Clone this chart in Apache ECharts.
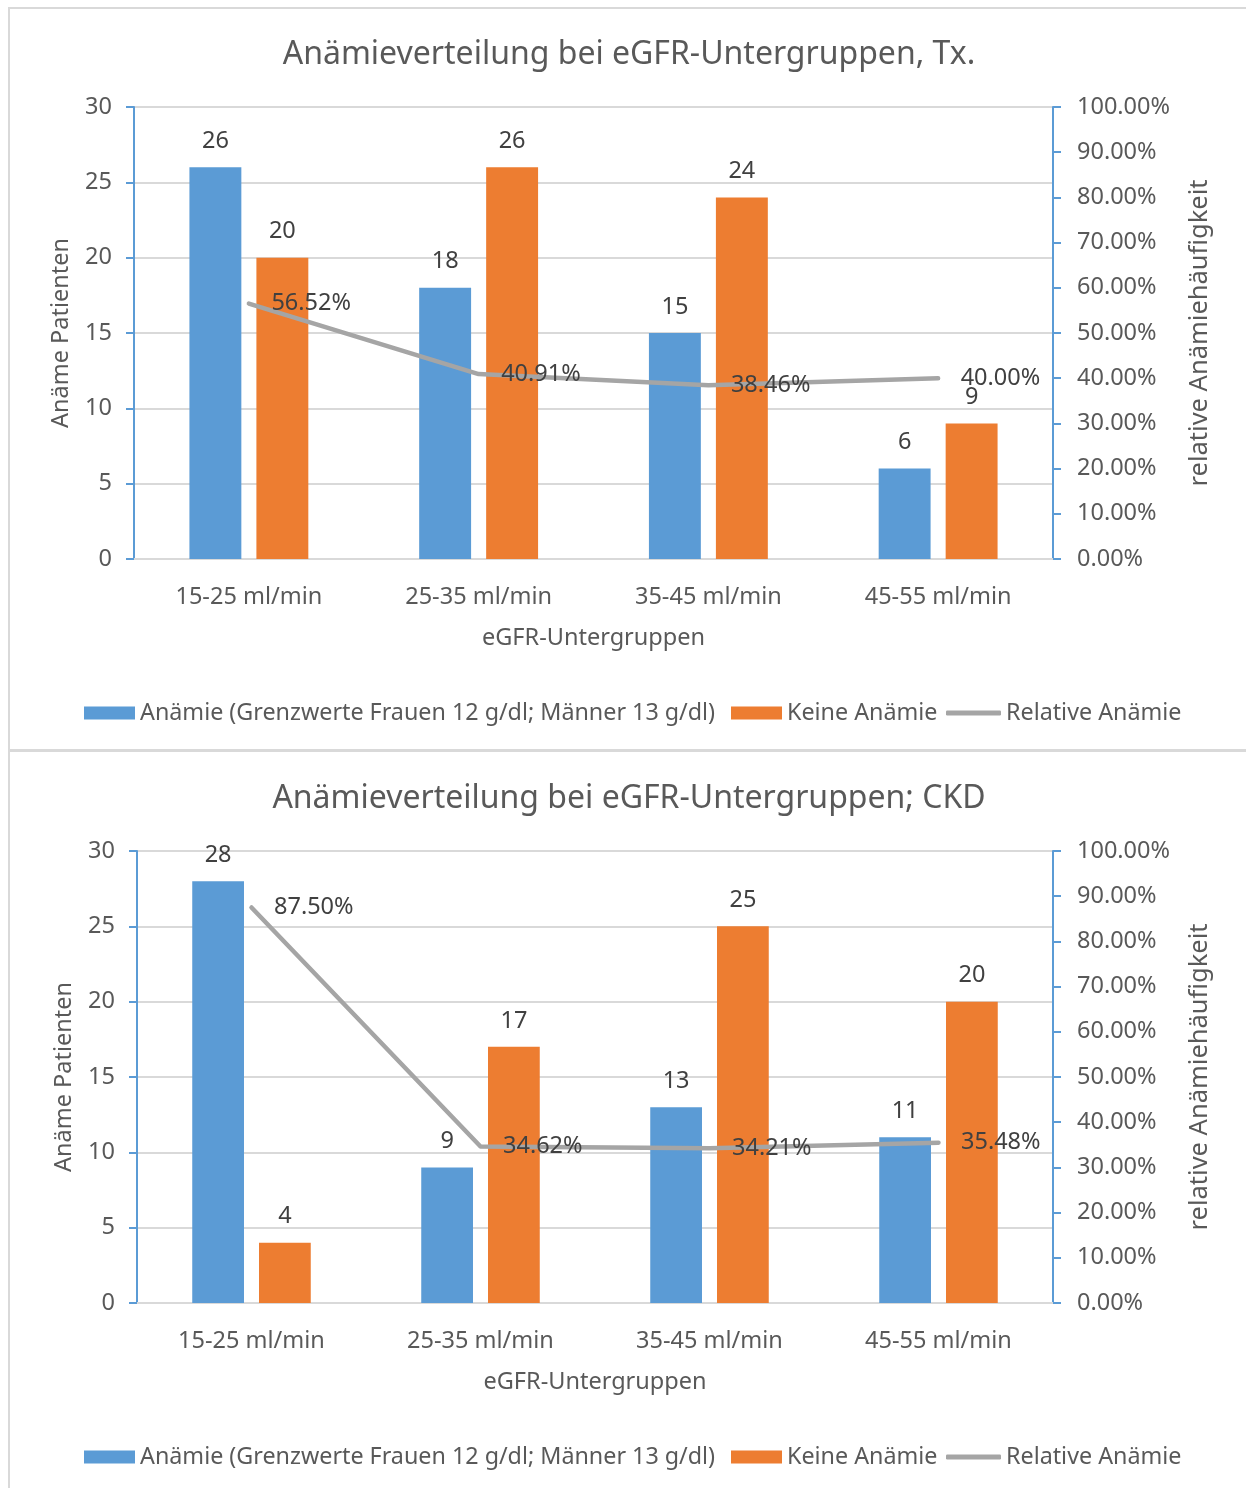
<!DOCTYPE html>
<html>
<head>
<meta charset="utf-8">
<script src="https://cdn.jsdelivr.net/npm/echarts@6/dist/echarts.min.js"></script>
<style>
  html, body { margin: 0; padding: 0; background: #fff; }
  #chart { width: 1246px; height: 1488px; }
</style>
</head>
<body>
<div id="chart"></div>
<script>
// eGFR subgroups and anaemia counts for the two cohorts
const categories = ['15-25 ml/min', '25-35 ml/min', '35-45 ml/min', '45-55 ml/min'];

const txAnemia = [26, 18, 15, 6];
const txNoAnemia = [20, 26, 24, 9];
const txRelative = [56.52, 40.91, 38.46, 40.00];

const ckdAnemia = [28, 9, 13, 11];
const ckdNoAnemia = [4, 17, 25, 20];
const ckdRelative = [87.50, 34.62, 34.21, 35.48];

const seriesNames = ['Anämie (Grenzwerte Frauen 12 g/dl; Männer 13 g/dl)', 'Keine Anämie', 'Relative Anämie'];
const titles = ['Anämieverteilung bei eGFR-Untergruppen, Tx.', 'Anämieverteilung bei eGFR-Untergruppen; CKD'];
const countTicks = { min: 0, max: 30, interval: 5 };
const pctTicks = { min: 0, max: 100, interval: 10 };

const FONT = '"Noto Sans", "Open Sans", sans-serif';
const FS = 23.5;
const BLUE = '#5b9bd5', ORANGE = '#ed7d31', GRAY = '#a5a5a5';
const TXT = '#595959', LBL = '#404040', GRID = '#d9d9d9';

const panels = [
  { top: 107, left: 134, titleY: 34, legendY: 708, anemia: txAnemia, none: txNoAnemia, rel: txRelative },
  { top: 851, left: 137, titleY: 778, legendY: 1452, anemia: ckdAnemia, none: ckdNoAnemia, rel: ckdRelative }
];

const option = {
  animation: false,
  textStyle: { fontFamily: FONT },
  title: [], legend: [], grid: [], xAxis: [], yAxis: [], series: [],
  graphic: [
    { type: 'rect', shape: { x: 8, y: 7, width: 2, height: 1481 }, style: { fill: GRID } },
    { type: 'rect', shape: { x: 8, y: 7, width: 1238, height: 2 }, style: { fill: GRID } },
    { type: 'rect', shape: { x: 8, y: 749, width: 1238, height: 3 }, style: { fill: GRID } }
  ]
};

panels.forEach((p, i) => {
  option.title.push({
    text: titles[i], left: 624, top: p.titleY, textAlign: 'center',
    textStyle: { fontFamily: FONT, fontSize: 32, fontWeight: 'normal', color: TXT }
  });

  const legendBase = {
    orient: 'horizontal', top: p.legendY - 13,
    textStyle: { fontFamily: FONT, fontSize: 23.3, color: TXT, lineHeight: 26 }
  };
  option.legend.push(Object.assign({}, legendBase, {
    left: 79, itemWidth: 51, itemHeight: 13, data: [{ name: seriesNames[0], icon: 'rect' }]
  }));
  option.legend.push(Object.assign({}, legendBase, {
    left: 726, itemWidth: 51, itemHeight: 13, data: [{ name: seriesNames[1], icon: 'rect' }]
  }));
  option.legend.push(Object.assign({}, legendBase, {
    left: 941, itemWidth: 55, itemHeight: 5,
    data: [{ name: seriesNames[2], icon: 'roundRect', itemStyle: { color: GRAY, opacity: 1 } }]
  }));

  option.grid.push({ left: p.left, right: 193, top: p.top, height: 452, containLabel: false });

  option.xAxis.push({
    type: 'category', gridIndex: i, data: categories,
    name: 'eGFR-Untergruppen', nameLocation: 'middle', nameGap: 67,
    nameTextStyle: { fontFamily: FONT, fontSize: FS, color: TXT },
    axisLine: { lineStyle: { color: GRID, width: 2 } },
    axisTick: { show: false },
    axisLabel: { fontFamily: FONT, fontSize: FS, color: TXT, margin: 26 }
  });

  option.yAxis.push({
    type: 'value', gridIndex: i, position: 'left',
    min: countTicks.min, max: countTicks.max, interval: countTicks.interval,
    name: 'Anäme Patienten', nameLocation: 'middle', nameGap: 61, nameRotate: 90,
    nameTextStyle: { fontFamily: FONT, fontSize: FS, color: TXT },
    axisLine: { show: true, lineStyle: { color: BLUE, width: 2 } },
    axisTick: { show: true, length: 8, lineStyle: { color: BLUE, width: 2 } },
    axisLabel: { fontFamily: FONT, fontSize: FS, color: TXT, margin: 22 },
    splitLine: { lineStyle: { color: GRID, width: 2 } }
  });
  option.yAxis.push({
    type: 'value', gridIndex: i, position: 'right',
    min: pctTicks.min, max: pctTicks.max, interval: pctTicks.interval,
    name: 'relative Anämiehäufigkeit', nameLocation: 'middle', nameGap: 134, nameRotate: 90,
    nameTextStyle: { fontFamily: FONT, fontSize: 25.5, color: TXT },
    axisLine: { show: true, lineStyle: { color: BLUE, width: 2 } },
    axisTick: { show: true, length: 8, lineStyle: { color: BLUE, width: 2 } },
    axisLabel: { fontFamily: FONT, fontSize: FS, color: TXT, margin: 24, formatter: v => v.toFixed(2) + '%' },
    splitLine: { show: false }
  });

  const barLabel = { show: true, position: 'top', distance: 14, fontFamily: FONT, fontSize: FS, color: LBL };
  option.series.push({
    type: 'bar', name: seriesNames[0], xAxisIndex: i, yAxisIndex: i * 2,
    data: p.anemia, barWidth: '22.6%', barGap: '29%',
    itemStyle: { color: BLUE }, label: barLabel
  });
  option.series.push({
    type: 'bar', name: seriesNames[1], xAxisIndex: i, yAxisIndex: i * 2,
    data: p.none, barWidth: '22.6%', barGap: '29%',
    itemStyle: { color: ORANGE }, label: barLabel
  });
  option.series.push({
    type: 'line', name: seriesNames[2], xAxisIndex: i, yAxisIndex: i * 2 + 1,
    data: p.rel, z: 5,
    symbol: 'circle', symbolSize: 1, showSymbol: true,
    itemStyle: { color: 'rgba(0,0,0,0)' },
    lineStyle: { color: GRAY, width: 4.5, cap: 'round', join: 'round' },
    label: {
      show: true, position: 'right', distance: 22,
      fontFamily: FONT, fontSize: FS, color: LBL,
      formatter: d => d.value.toFixed(2) + '%'
    }
  });
});

const chart = echarts.init(document.getElementById('chart'), null, { renderer: 'canvas' });
chart.setOption(option);
</script>
</body>
</html>
